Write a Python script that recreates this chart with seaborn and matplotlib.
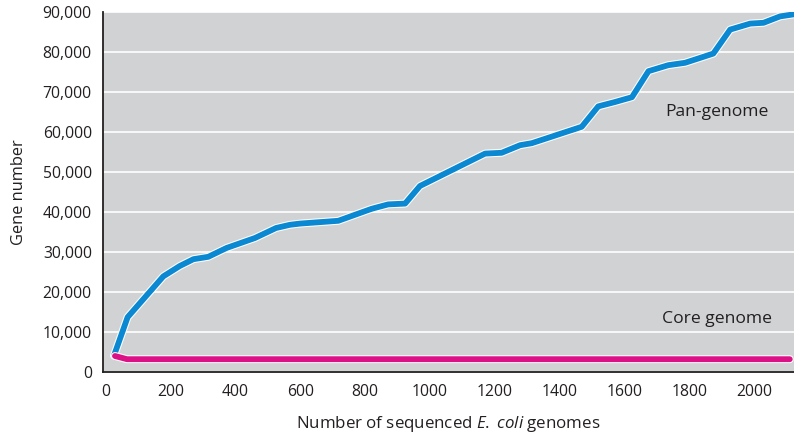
import numpy as np
import pandas as pd
import matplotlib
matplotlib.use("Agg")
import matplotlib.pyplot as plt
import matplotlib.patheffects as pe
import seaborn as sns
from matplotlib.ticker import FuncFormatter

# --- data ---
pan_x = [25, 67, 177, 228, 270, 316, 372, 460, 525, 568, 599, 717, 820, 871, 923,
         969, 1170, 1221, 1278, 1314, 1468, 1519, 1571, 1623, 1674, 1735, 1787,
         1874, 1926, 1988, 2029, 2080, 2121]
pan_y = [4100, 13700, 23900, 26500, 28200, 28800, 31000, 33500, 36000, 36800, 37100,
         37800, 40800, 41900, 42100, 46500, 54600, 54800, 56700, 57200, 61300,
         66400, 67500, 68700, 75200, 76700, 77300, 79600, 85600, 87100, 87300,
         88900, 89400]
core_x = [28, 65, 2110]
core_y = [4000, 3200, 3200]
x_ticks = [0, 200, 400, 600, 800, 1000, 1200, 1400, 1600, 1800, 2000]
y_ticks = [0, 10000, 20000, 30000, 40000, 50000, 60000, 70000, 80000, 90000]

df = pd.concat([
    pd.DataFrame({"x": pan_x, "y": pan_y, "series": "Pan-genome"}),
    pd.DataFrame({"x": core_x, "y": core_y, "series": "Core genome"}),
], ignore_index=True)

sns.set_theme(style="white")
plt.rcParams["font.family"] = ["Open Sans", "DejaVu Sans"]
plt.rcParams["mathtext.fontset"] = "custom"
plt.rcParams["mathtext.rm"] = "Open Sans"
plt.rcParams["mathtext.it"] = "Open Sans:italic"
text_color = "#231f20"

fig = plt.figure(figsize=(7.94, 4.36), dpi=100)
ax = fig.add_axes([0.1297, 0.1468, 0.8703, 0.8257])
ax.set_facecolor("#d1d2d4")

palette = {"Pan-genome": "#0a88d2", "Core genome": "#dc1186"}
sns.lineplot(data=df, x="x", y="y", hue="series", palette=palette, ax=ax,
             linewidth=4.2, legend=False, sort=False, estimator=None,
             solid_capstyle="round", solid_joinstyle="round")
for ln in ax.get_lines():
    ln.set_path_effects([pe.Stroke(linewidth=5.7, foreground="white"), pe.Normal()])
    ln.set_zorder(3)

ax.set_xlim(-9, 2123)
ax.set_ylim(0, 90000)
ax.set_xticks(x_ticks)
ax.set_yticks(y_ticks)
ax.yaxis.set_major_formatter(FuncFormatter(lambda v, p: f"{int(v):,}"))
ax.grid(axis="y", color="white", linewidth=1.2)
ax.set_axisbelow(True)

for s in ["top", "right"]:
    ax.spines[s].set_visible(False)
for s in ["left", "bottom"]:
    ax.spines[s].set_color("#231f20")
    ax.spines[s].set_linewidth(1.3)
    ax.spines[s].set_zorder(4)

ax.tick_params(axis="x", direction="in", length=6.5, width=1.2, color="#231f20",
               labelsize=11.3, labelcolor=text_color, pad=9)
ax.tick_params(axis="y", length=0, labelsize=11.3, labelcolor=text_color, pad=8)

ax.set_ylabel("Gene number", fontsize=11.8, color=text_color, labelpad=11)
ax.set_xlabel("Number of sequenced $\\mathit{E.}$ $\\mathit{coli}$ genomes", fontsize=12.2,
              color=text_color, labelpad=10)

ax.text(1885, 65000, "Pan-genome", ha="center", va="center", fontsize=12.6, color=text_color)
ax.text(1885, 13300, "Core genome", ha="center", va="center", fontsize=12.6, color=text_color)

fig.savefig("out.png", dpi=100)
